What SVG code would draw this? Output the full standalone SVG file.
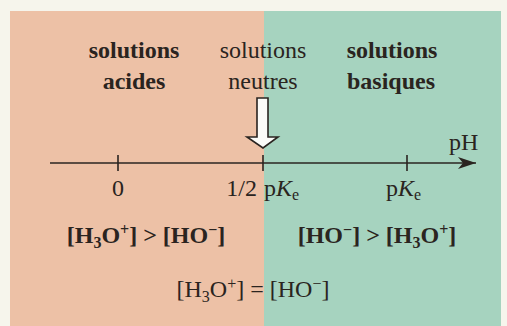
<svg xmlns="http://www.w3.org/2000/svg" width="507" height="326" viewBox="0 0 507 326">
<style>
  text { font-family: "Liberation Serif", "Times New Roman", serif; fill: #2a2420; }
  .b { font-weight: bold; }
  .h { font-size: 24px; text-anchor: middle; }
  .t { font-size: 24px; }
  .ax { stroke: #2a2420; stroke-width: 1.6; fill: none; }
</style>
<defs>
  <marker id="ah" viewBox="0 0 20 12" refX="18" refY="6" markerWidth="20" markerHeight="12" markerUnits="userSpaceOnUse" orient="auto">
    <path d="M0,0 L18,6 L0,12 L5,6 Z" fill="#2a2420"/>
  </marker>
</defs>
<rect x="0" y="0" width="507" height="326" fill="#f6f5ec"/>
<rect x="10" y="11" width="254" height="315" fill="#edc1a6"/>
<rect x="264" y="11" width="237" height="315" fill="#a6d3bf"/>

<g id="label-acides">
  <text class="h b" x="134" y="58">solutions</text>
  <text class="h b" x="134" y="89">acides</text>
</g>
<g id="label-neutres">
  <text class="h" x="263" y="58">solutions</text>
  <text class="h" x="263" y="89">neutres</text>
</g>
<g id="label-basiques">
  <text class="h b" x="392" y="58">solutions</text>
  <text class="h b" x="391" y="89">basiques</text>
</g>

<g id="connectors">
  <line class="ax" x1="50" y1="163" x2="476" y2="163" marker-end="url(#ah)"/>
  <line class="ax" x1="118" y1="155" x2="118" y2="171"/>
  <line class="ax" x1="263" y1="155" x2="263" y2="171"/>
  <line class="ax" x1="407" y1="155" x2="407" y2="171"/>
  <polygon points="257,98 268,98 268,137 278,137 263,148 247,137 257,137" fill="#fbfbf8" stroke="#2a2420" stroke-width="1.6" stroke-linejoin="miter"/>
</g>

<g id="axis-labels">
  <text class="t" x="449" y="150">pH</text>
  <text class="t" x="118" y="196" text-anchor="middle">0</text>
  <text class="t" x="257" y="196" text-anchor="end">1/2</text>
  <text class="t" x="264" y="196">p<tspan font-style="italic">K</tspan><tspan font-size="16" dy="4">e</tspan></text>
  <text class="t" x="386" y="196">p<tspan font-style="italic">K</tspan><tspan font-size="16" dy="4">e</tspan></text>
</g>

<g id="relations">
  <text class="t b" x="146" y="243" text-anchor="middle">[H<tspan font-size="16" dy="5">3</tspan><tspan dy="-5">O</tspan><tspan font-size="16" dy="-8">+</tspan><tspan dy="8">] &gt; [HO</tspan><tspan font-size="16" dy="-8">−</tspan><tspan dy="8">]</tspan></text>
  <text class="t b" x="377" y="243" text-anchor="middle">[HO<tspan font-size="16" dy="-8">−</tspan><tspan dy="8">] &gt; [H</tspan><tspan font-size="16" dy="5">3</tspan><tspan dy="-5">O</tspan><tspan font-size="16" dy="-8">+</tspan><tspan dy="8">]</tspan></text>
  <text class="t" x="253" y="297" text-anchor="middle">[H<tspan font-size="16" dy="5">3</tspan><tspan dy="-5">O</tspan><tspan font-size="16" dy="-8">+</tspan><tspan dy="8">] = [HO</tspan><tspan font-size="16" dy="-8">−</tspan><tspan dy="8">]</tspan></text>
</g>
</svg>
